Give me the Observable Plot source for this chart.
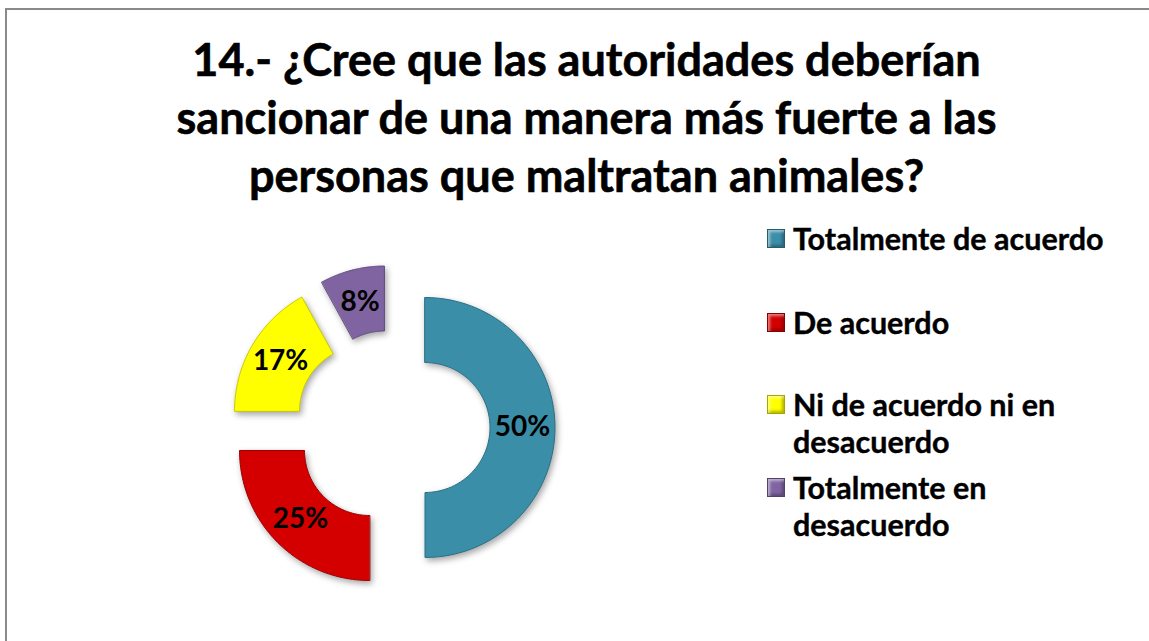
<!DOCTYPE html>
<html>
<head>
<meta charset="utf-8">
<script src="https://cdn.jsdelivr.net/npm/d3@7"></script>
<script src="https://cdn.jsdelivr.net/npm/@observablehq/plot@0.6"></script>
<style>
  html, body { margin: 0; padding: 0; background: #fff; }
  #frame { position: relative; width: 1149px; height: 641px; overflow: hidden; font-family: Lato, "Open Sans", sans-serif; font-weight: bold; color: #000; }
  #borderTop { position: absolute; left: 6px; top: 8px; width: 1143px; height: 2px; background: #8a8a8a; }
  #borderLeft { position: absolute; left: 5px; top: 8px; width: 2px; height: 633px; background: #8a8a8a; }
  #title { position: absolute; left: 12px; top: 30px; width: 1149px; text-align: center; font-size: 45px; line-height: 58px; -webkit-text-stroke: 0.6px #000; }
  #chart { position: absolute; left: 192px; top: 242px; }
  #chart svg path { filter: drop-shadow(2px 3px 3px rgba(0,0,0,0.35)); }
  #chart svg text { -webkit-text-stroke: 0.5px #000; }
  .leg { position: absolute; left: 767px; font-size: 30.5px; line-height: 37px; -webkit-text-stroke: 0.4px #000; }
  .leg .sw { position: absolute; left: 0; top: 9px; width: 16px; height: 17px; border: 1px solid rgba(0,0,0,0.35); box-shadow: inset 2px 2px 3px rgba(255,255,255,0.5), inset -2px -2px 3px rgba(0,0,0,0.3); -webkit-text-stroke: 0; }
  .leg .tx { position: absolute; left: 26px; top: 0; width: 360px; }
</style>
</head>
<body>
<div id="frame">
  <div id="borderTop"></div>
  <div id="borderLeft"></div>
  <div id="title"></div>
  <div id="chart"></div>
  <div id="legend"></div>
</div>
<script>
const titleLines = ["14.- ¿Cree que las autoridades deberían", "sancionar de una manera más fuerte a las", "personas que maltratan animales?"];
const categories = ["Totalmente de acuerdo", "De acuerdo", "Ni de acuerdo ni en desacuerdo", "Totalmente en desacuerdo"];
const legendLines = [["Totalmente de acuerdo"], ["De acuerdo"], ["Ni de acuerdo ni en", "desacuerdo"], ["Totalmente en", "desacuerdo"]];
const values = [50, 25, 17, 8];
const labels = ["50%", "25%", "17%", "8%"];
const colors = ["#3b8ea8", "#d40000", "#ffff00", "#8064a2"];
const strokes = ["#2a6f85", "#9a0000", "#c8c800", "#5f4a7c"];

// title
document.getElementById("title").innerHTML = titleLines.map(t => `<div>${t}</div>`).join("");

// legend
const legTops = [219.5, 303.5, 385.5, 468.5];
document.getElementById("legend").innerHTML = categories.map((c, i) =>
  `<div class="leg" style="top:${legTops[i]}px"><div class="sw" style="background:${colors[i]}"></div><div class="tx">${legendLines[i].join("<br>")}</div></div>`
).join("");

// geometry of the exploded donut, derived from the values
const outerR = 1, innerR = 0.5, explode = 0.25, steps = 60;
const total = d3.sum(values);
const cum = d3.cumsum(values);
const slices = values.map((v, i) => {
  const a0 = (cum[i] - v) / total * 2 * Math.PI;
  const a1 = cum[i] / total * 2 * Math.PI;
  const am = (a0 + a1) / 2;
  const ox = explode * Math.sin(am), oy = explode * Math.cos(am);
  const pts = [];
  for (let k = 0; k <= steps; k++) {
    const a = a0 + (a1 - a0) * k / steps;
    pts.push({x: ox + outerR * Math.sin(a), y: oy + outerR * Math.cos(a), name: categories[i]});
  }
  for (let k = steps; k >= 0; k--) {
    const a = a0 + (a1 - a0) * k / steps;
    pts.push({x: ox + innerR * Math.sin(a), y: oy + innerR * Math.cos(a), name: categories[i]});
  }
  const lr = (outerR + innerR) / 2;
  return {pts, label: {x: ox + lr * Math.sin(am), y: oy + lr * Math.cos(am), text: labels[i]}, i};
});

const W = 400, H = 370, S = 130;
const plot = Plot.plot({
  width: W, height: H,
  margin: 0,
  x: {domain: [-W / 2 / S, W / 2 / S], axis: null},
  y: {domain: [-H / 2 / S, H / 2 / S], axis: null},
  style: {background: "transparent", overflow: "visible"},
  marks: [
    ...slices.map(s => Plot.line(s.pts, {x: "x", y: "y", curve: "linear-closed", fill: colors[s.i], stroke: strokes[s.i], strokeWidth: 1})),
    Plot.text(slices.map(s => s.label), {x: "x", y: "y", text: "text", fontSize: 28, fontWeight: "bold", fill: "#000", fontFamily: "Lato, sans-serif"})
  ]
});
document.getElementById("chart").appendChild(plot);
</script>
</body>
</html>
